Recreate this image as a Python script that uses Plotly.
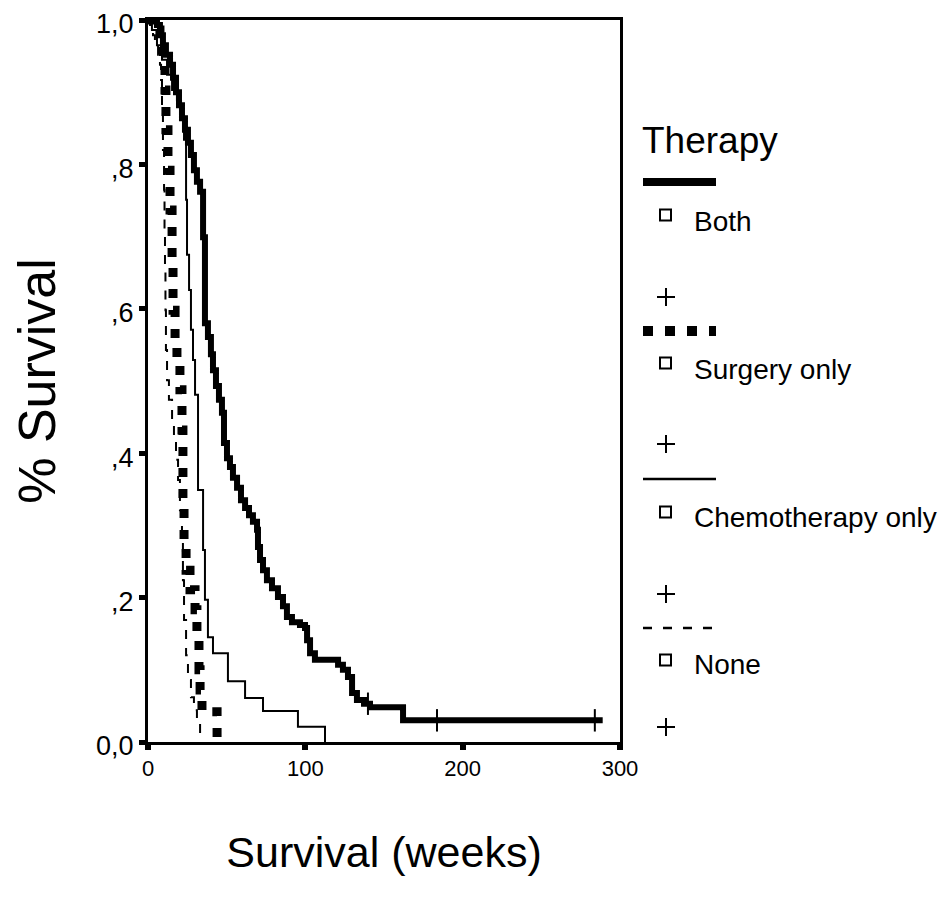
import plotly.graph_objects as go

# ---------------- data ----------------
both_weeks = [0, 5.7, 7.6, 9.5, 11.4, 14.0, 15.9, 17.8, 19.7, 21.6,
              23.5, 25.4, 27.3, 29.2, 31.1, 33.1, 35.0, 36.2, 38.1, 40.0,
              41.3, 43.2, 45.1, 47.0, 48.3, 50.2, 52.1, 54.0, 56.6, 59.1,
              61.7, 64.2, 66.7, 69.3, 69.9, 71.2, 73.1, 75.6, 78.8, 82.6,
              85.8, 88.3, 91.5, 96.6, 99.8, 101.1, 103.0, 106.1, 120.8, 123.9,
              127.1, 129.7, 132.8, 137.3, 141.1, 162.1, 289]
both_surv = [1.0, 0.993, 0.979, 0.965, 0.952, 0.938, 0.920, 0.900, 0.882, 0.864,
             0.848, 0.830, 0.813, 0.792, 0.776, 0.762, 0.699, 0.580, 0.561, 0.537,
             0.515, 0.493, 0.474, 0.456, 0.414, 0.393, 0.381, 0.366, 0.352, 0.335,
             0.324, 0.314, 0.305, 0.294, 0.270, 0.252, 0.238, 0.224, 0.213, 0.201,
             0.188, 0.173, 0.166, 0.162, 0.158, 0.141, 0.123, 0.114, 0.107, 0.100,
             0.090, 0.068, 0.058, 0.053, 0.048, 0.030, 0.030]

surgery_weeks = [0, 4.4, 7.6, 9.5, 10.8, 11.4, 12.7, 14.0, 15.3, 15.9,
                 17.2, 18.4, 20.3, 21.6, 22.2, 22.9, 24.2, 26.7, 29.9, 31.1,
                 32.4, 33.1, 34.3, 43.9]
surgery_surv = [1.0, 0.986, 0.965, 0.945, 0.903, 0.848, 0.792, 0.737, 0.668, 0.598,
                0.557, 0.522, 0.488, 0.432, 0.335, 0.280, 0.238, 0.211, 0.183, 0.141,
                0.100, 0.072, 0.042, 0.0]

chemo_weeks = [0, 2.5, 5.7, 8.9, 12.1, 15.3, 18.4, 21.0, 22.9, 24.2,
               24.8, 26.1, 27.3, 28.6, 29.9, 31.8, 35.0, 36.2, 38.1, 41.3,
               50.8, 61.7, 73.1, 95.3, 112.5]
chemo_surv = [1.0, 0.986, 0.965, 0.945, 0.924, 0.903, 0.889, 0.868, 0.834, 0.751,
              0.675, 0.626, 0.571, 0.529, 0.481, 0.349, 0.266, 0.197, 0.145, 0.123,
              0.084, 0.061, 0.043, 0.021, 0.0]

none_weeks = [0, 1.3, 3.2, 4.4, 6.4, 7.6, 8.3, 8.9, 9.5, 10.2,
              10.5, 10.8, 11.1, 11.4, 12.1, 13.3, 15.3, 16.5, 17.8, 19.1,
              20.3, 21.6, 22.2, 22.9, 24.2, 25.4, 27.3, 29.2, 31.1, 33.1]
none_surv = [1.0, 0.993, 0.979, 0.965, 0.952, 0.938, 0.917, 0.875, 0.820, 0.765,
             0.709, 0.654, 0.598, 0.543, 0.501, 0.474, 0.446, 0.418, 0.391, 0.363,
             0.321, 0.280, 0.224, 0.169, 0.120, 0.086, 0.062, 0.044, 0.028, 0.0]

both_censor_weeks = [139.8, 183.7, 284.0]
both_censor_surv = [0.053, 0.030, 0.030]

x_ticks = [0, 100, 200, 300]
y_ticks = [0.0, 0.2, 0.4, 0.6, 0.8, 1.0]
y_tick_labels = ["0,0", ",2", ",4", ",6", ",8", "1,0"]

legend_title = "Therapy"
legend_names = ["Both", "Surgery only", "Chemotherapy only", "None"]

# ---------------- figure ----------------
PAGE_OFFSET = 8                  # default body margin of the html page
W, H = 947 - PAGE_OFFSET, 907 - PAGE_OFFSET
L, R, T, B = 148, 620, 20, 742   # plot area in page pixels
FONT = "Liberation Sans, Arial, Helvetica, sans-serif"

def xp(px):
    return (px - L) / (R - L)

def yp(py):
    return (B - py) / (B - T)

fig = go.Figure()

fig.add_trace(go.Scatter(x=none_weeks, y=none_surv, mode="lines", line_shape="hv",
                         line=dict(color="black", width=2, dash="9px,9px"),
                         name=legend_names[3], showlegend=False))
fig.add_trace(go.Scatter(x=chemo_weeks, y=chemo_surv, mode="lines", line_shape="hv",
                         line=dict(color="black", width=2),
                         name=legend_names[2], showlegend=False))
fig.add_trace(go.Scatter(x=surgery_weeks, y=surgery_surv, mode="lines", line_shape="hv",
                         line=dict(color="black", width=9, dash="9px,12px"),
                         name=legend_names[1], showlegend=False))
fig.add_trace(go.Scatter(x=both_weeks, y=both_surv, mode="lines", line_shape="hv",
                         line=dict(color="black", width=6),
                         name=legend_names[0], showlegend=False))
fig.add_trace(go.Scatter(x=both_censor_weeks, y=both_censor_surv, mode="markers",
                         marker=dict(symbol="line-ns-open", size=16, color="black",
                                     line=dict(color="black", width=2)),
                         name=legend_names[0] + " censored", showlegend=False))

shapes = []
annotations = []

annotations.append(dict(text=legend_title, x=xp(640), y=yp(141), xref="paper", yref="paper",
                        xanchor="left", yanchor="middle", showarrow=False,
                        font=dict(family=FONT, size=37, color="black")))

line_styles = [dict(width=8, dash="solid"),
               dict(width=10, dash="10px,12px"),
               dict(width=2.5, dash="solid"),
               dict(width=2.5, dash="9px,11px")]
line_y = [182, 331, 479, 628]
square_y = [215, 363, 512, 660]
text_y = [221, 369, 517, 664]
plus_y = [297, 444, 594, 727]

for i, name in enumerate(legend_names):
    shapes.append(dict(type="line", xref="paper", yref="paper",
                       x0=xp(643), x1=xp(716), y0=yp(line_y[i]), y1=yp(line_y[i]),
                       line=dict(color="black", width=line_styles[i]["width"],
                                 dash=line_styles[i]["dash"])))
    shapes.append(dict(type="rect", xref="paper", yref="paper",
                       x0=xp(660), x1=xp(671), y0=yp(square_y[i] + 5.5), y1=yp(square_y[i] - 5.5),
                       line=dict(color="black", width=2), fillcolor="white"))
    annotations.append(dict(text=name, x=xp(692), y=yp(text_y[i]), xref="paper", yref="paper",
                            xanchor="left", yanchor="middle", showarrow=False,
                            font=dict(family=FONT, size=28, color="black")))
    shapes.append(dict(type="line", xref="paper", yref="paper",
                       x0=xp(657), x1=xp(675), y0=yp(plus_y[i]), y1=yp(plus_y[i]),
                       line=dict(color="black", width=2)))
    shapes.append(dict(type="line", xref="paper", yref="paper",
                       x0=xp(666), x1=xp(666), y0=yp(plus_y[i] - 9), y1=yp(plus_y[i] + 9),
                       line=dict(color="black", width=2)))

fig.update_layout(
    width=W, height=H,
    margin=dict(l=L - PAGE_OFFSET, r=947 - R, t=T - PAGE_OFFSET, b=907 - B, pad=0,
                autoexpand=False),
    paper_bgcolor="white", plot_bgcolor="white",
    font=dict(family=FONT, color="black"),
    showlegend=False,
    shapes=shapes, annotations=annotations,
)

fig.update_xaxes(range=[0, 300], tickvals=x_ticks, ticktext=[str(v) for v in x_ticks],
                 showline=True, linecolor="black", linewidth=3, mirror=True,
                 ticks="outside", ticklen=5, tickwidth=6, tickcolor="black",
                 showgrid=False, zeroline=False, automargin=False,
                 ticklabeloverflow="allow",
                 tickfont=dict(family=FONT, size=22, color="black"),
                 title=dict(text="Survival (weeks)", standoff=57,
                            font=dict(family=FONT, size=43, color="black")))
fig.update_yaxes(range=[0, 1], tickvals=y_ticks, ticktext=y_tick_labels,
                 showline=True, linecolor="black", linewidth=3, mirror=True,
                 ticks="outside", ticklen=6, tickwidth=5, tickcolor="black",
                 showgrid=False, zeroline=False, automargin=False,
                 ticklabeloverflow="allow", ticklabelshift=4,
                 tickfont=dict(family=FONT, size=27, color="black"),
                 title=dict(text="% Survival", standoff=25,
                            font=dict(family=FONT, size=52, color="black")))

fig.write_html("out.html")
